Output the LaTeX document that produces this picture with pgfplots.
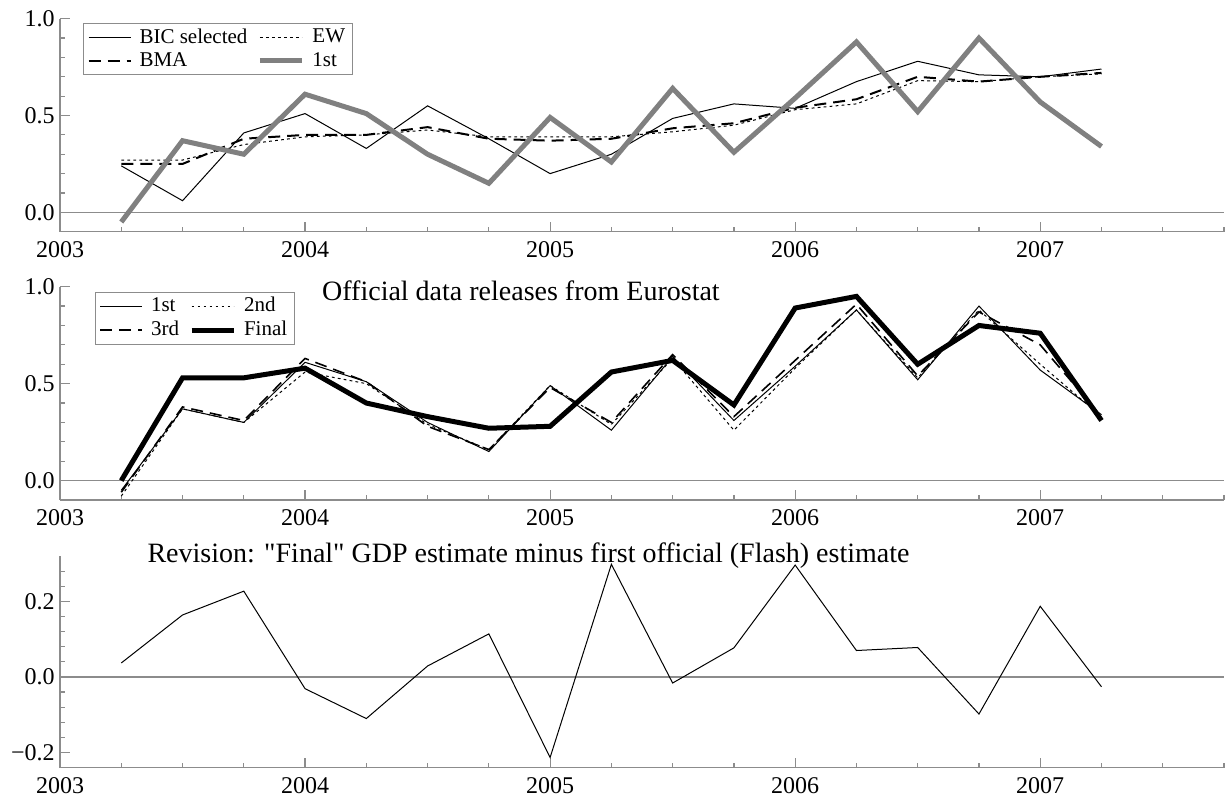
\documentclass[border=0pt]{standalone}
\usepackage{fontspec}
\newfontfamily\tnr{Liberation Serif}
\usepackage{pgfplots}
\pgfplotsset{compat=1.18}
\usepackage{pgfplotstable}
\definecolor{axgray}{RGB}{140,140,140}
\definecolor{lgray}{RGB}{128,128,128}

\pgfplotstableread{
t bic ew bma first
2003.25 0.24 0.27 0.25 -0.05
2003.50 0.06 0.27 0.25 0.37
2003.75 0.41 0.35 0.38 0.30
2004.00 0.51 0.39 0.40 0.61
2004.25 0.33 0.40 0.40 0.51
2004.50 0.55 0.425 0.44 0.30
2004.75 0.38 0.39 0.38 0.15
2005.00 0.20 0.39 0.37 0.49
2005.25 0.30 0.39 0.38 0.26
2005.50 0.485 0.416 0.434 0.64
2005.75 0.56 0.45 0.46 0.31
2006.00 0.537 0.53 0.54 0.59
2006.25 0.675 0.56 0.584 0.88
2006.50 0.78 0.68 0.70 0.52
2006.75 0.71 0.675 0.675 0.90
2007.00 0.70 0.70 0.70 0.57
2007.25 0.74 0.715 0.72 0.34
}\forecasts

\pgfplotstableread{
t first second third final
2003.25 -0.05 -0.08 -0.06 0.00
2003.50 0.37 0.37 0.38 0.53
2003.75 0.30 0.30 0.31 0.53
2004.00 0.61 0.56 0.63 0.58
2004.25 0.51 0.50 0.51 0.40
2004.50 0.30 0.29 0.28 0.33
2004.75 0.15 0.16 0.16 0.27
2005.00 0.49 0.49 0.48 0.28
2005.25 0.26 0.29 0.30 0.56
2005.50 0.64 0.63 0.65 0.62
2005.75 0.31 0.26 0.33 0.39
2006.00 0.59 0.58 0.62 0.89
2006.25 0.88 0.88 0.91 0.95
2006.50 0.52 0.53 0.54 0.60
2006.75 0.90 0.88 0.87 0.80
2007.00 0.57 0.60 0.70 0.76
2007.25 0.34 0.33 0.33 0.31
}\releases

\pgfplotstableread{
t rev
2003.25 0.037
2003.50 0.164
2003.75 0.227
2004.00 -0.031
2004.25 -0.110
2004.50 0.029
2004.75 0.114
2005.00 -0.213
2005.25 0.298
2005.50 -0.016
2005.75 0.077
2006.00 0.296
2006.25 0.070
2006.50 0.078
2006.75 -0.098
2007.00 0.187
2007.25 -0.026
}\revision

\pgfplotsset{
  panel/.style={
    scale only axis, width=582pt,
    anchor=south west, clip=false,
    axis x line*=bottom, axis y line*=left,
    axis line style={-, axgray, line width=0.6pt},
    every tick/.style={axgray, line width=0.6pt},
    tick align=inside,
    major tick length=5pt, minor tick length=2.5pt,
    xmin=2003, xmax=2007.75,
    xtick={2003,2004,2005,2006,2007},
    xticklabels={2003,2004,2005,2006,2007},
    minor xtick={2003.25,2003.5,2003.75,2004.25,2004.5,2004.75,2005.25,2005.5,2005.75,2006.25,2006.5,2006.75,2007.25,2007.5,2007.75},
    tick label style={font=\tnr\fontsize{12}{14}\selectfont},
    xticklabel style={inner sep=4.5pt},
    yticklabel style={inner xsep=2.5pt},
    legend columns=2,
    legend cell align=left,
    legend image code/.code={\draw[##1] (0pt,0pt) -- (21pt,0pt);},
    legend style={draw=axgray, line width=0.5pt, fill=white,
      font=\tnr\fontsize{10.5}{12}\selectfont,
      anchor=north west, inner xsep=2pt, inner ysep=1pt,
      nodes={inner xsep=1.5pt, inner ysep=1.6pt},
      /tikz/every odd column/.append style={column sep=2.5pt},
      /tikz/every even column/.append style={column sep=3.5pt}},
  },
  zeroline/.style={axgray, line width=0.6pt, forget plot},
  dotsty/.style={black, line width=0.5pt, dash pattern=on 1.4pt off 1.6pt},
  dashsty/.style={black, dash pattern=on 6pt off 3.5pt},
}

\begin{document}
\begin{tikzpicture}
\useasboundingbox (0,0) rectangle (612.5pt,401.5pt);

% Panel 1
\begin{axis}[panel, at={(30pt,285.65pt)}, height=106.5pt,
  ymin=-0.1, ymax=1.0,
  ytick={0,0.5,1}, yticklabels={0.0,0.5,1.0},
  minor ytick={0.1,0.2,0.3,0.4,0.6,0.7,0.8,0.9},
  legend style={at={(0.0198,0.981)}},
]
\addplot[zeroline] coordinates {(2003,0) (2007.75,0)};
\addplot[black, line width=0.5pt] table[x=t,y=bic] {\forecasts};
\addlegendentry{BIC selected}
\addplot[dotsty] table[x=t,y=ew] {\forecasts};
\addlegendentry{EW}
\addplot[dashsty, line width=1pt] table[x=t,y=bma] {\forecasts};
\addlegendentry{BMA}
\addplot[lgray, line width=2.5pt] table[x=t,y=first] {\forecasts};
\addlegendentry{1st}
\end{axis}

% Panel 2
\begin{axis}[panel, at={(30pt,151.5pt)}, height=106.65pt,
  ymin=-0.1, ymax=1.0,
  ytick={0,0.5,1}, yticklabels={0.0,0.5,1.0},
  minor ytick={0.1,0.2,0.3,0.4,0.6,0.7,0.8,0.9},
  legend style={at={(0.030,0.9766)}},
]
\addplot[zeroline] coordinates {(2003,0) (2007.75,0)};
\addplot[black, line width=0.5pt] table[x=t,y=first] {\releases};
\addlegendentry{1st}
\addplot[dotsty] table[x=t,y=second] {\releases};
\addlegendentry{2nd}
\addplot[dashsty, line width=0.8pt] table[x=t,y=third] {\releases};
\addlegendentry{3rd}
\addplot[black, line width=2.5pt] table[x=t,y=final] {\releases};
\addlegendentry{Final}
\node[anchor=base, font=\tnr\fontsize{14}{16}\selectfont] at (rel axis cs:0.396,0.9376) {Official data releases from Eurostat};
\end{axis}

% Panel 3
\begin{axis}[panel, at={(30pt,17.65pt)}, height=105.85pt,
  ymin=-0.24, ymax=0.32,
  ytick={-0.2,0,0.2}, yticklabels={−0.2,0.0,0.2},
  minor ytick={-0.16,-0.12,-0.08,-0.04,0.04,0.08,0.12,0.16,0.24,0.28},
]
\addplot[zeroline] coordinates {(2003,0) (2007.75,0)};
\addplot[black, line width=0.5pt] table[x=t,y=rev] {\revision};
\node[anchor=base, font=\tnr\fontsize{14}{16}\selectfont] at (rel axis cs:0.4025,0.968) {Revision: "Final" GDP estimate minus first official (Flash) estimate};
\end{axis}
\end{tikzpicture}
\end{document}
